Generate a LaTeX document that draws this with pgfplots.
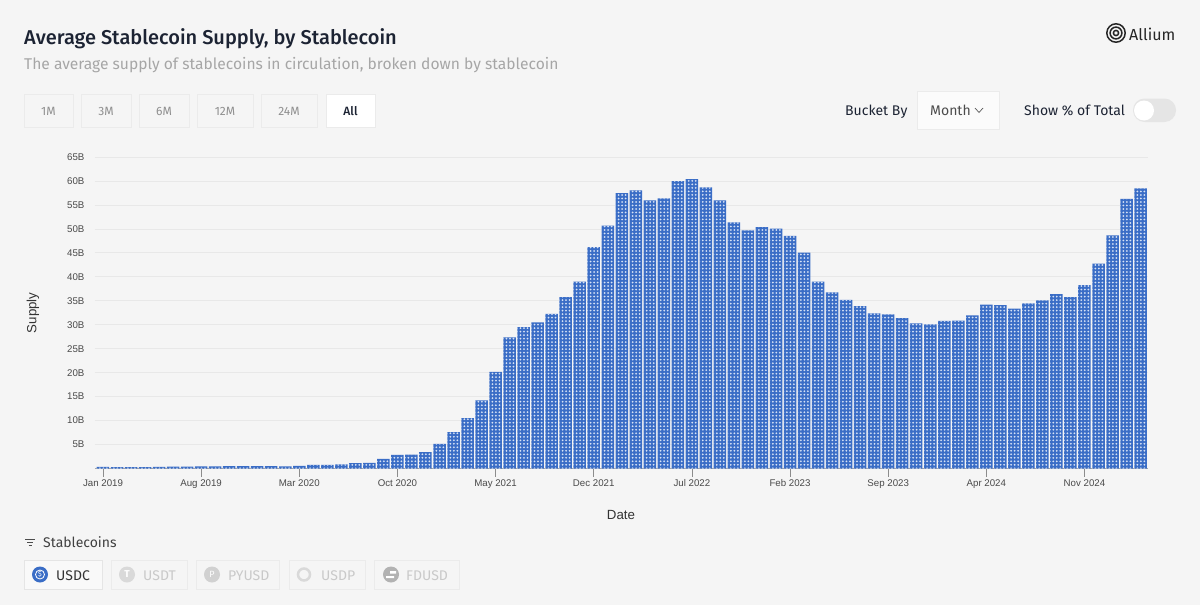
\documentclass[border=0pt]{standalone}
\usepackage{fontspec}
\setmainfont{Liberation Sans}
\newfontfamily\uifont{Fira Sans}
\newfontfamily\uimedium{Fira Sans Medium}
\usepackage{pgfplots}
\pgfplotsset{compat=1.18}
\usetikzlibrary{patterns.meta}
\definecolor{pagebg}{HTML}{F5F5F5}
\definecolor{barblue}{HTML}{3A6DC6}
\definecolor{dotblue}{HTML}{D6E2F5}
\definecolor{gridc}{HTML}{E8E8E8}
\definecolor{chipline}{HTML}{EBEBEB}
\definecolor{titlec}{HTML}{1C2333}
\definecolor{subc}{HTML}{A6A6A6}
\definecolor{mutec}{HTML}{8F8F8F}
\definecolor{offc}{HTML}{C9C9C9}
\definecolor{axisc}{HTML}{4A4A4A}

\pgfplotstableread{
i val
0 0.35
1 0.30
2 0.30
3 0.30
4 0.35
5 0.40
6 0.40
7 0.45
8 0.45
9 0.50
10 0.50
11 0.50
12 0.50
13 0.45
14 0.55
15 0.75
16 0.75
17 0.85
18 1.10
19 1.20
20 2.00
21 2.85
22 2.90
23 3.40
24 5.15
25 7.60
26 10.5
27 14.2
28 20.2
29 27.4
30 29.5
31 30.5
32 32.3
33 35.8
34 39.0
35 46.2
36 50.7
37 57.5
38 58.1
39 56.0
40 56.4
41 60.0
42 60.4
43 58.7
44 56.0
45 51.4
46 49.7
47 50.4
48 50.1
49 48.6
50 45.1
51 39.0
52 36.8
53 35.2
54 33.9
55 32.4
56 32.2
57 31.4
58 30.3
59 30.1
60 30.8
61 30.9
62 32.0
63 34.2
64 34.1
65 33.4
66 34.5
67 35.1
68 36.4
69 35.8
70 38.3
71 42.8
72 48.7
73 56.3
74 58.5
}\supplytable

\begin{document}
\begin{tikzpicture}
% page in pixel coordinates, y downwards
\begin{scope}[x=1pt,y=-1pt,font=\uifont]
\fill[pagebg] (0,0) rectangle (1200,605);
\node[anchor=base west,inner sep=0,text=titlec,font=\uimedium\fontsize{20}{24}\selectfont] at (24,45) {Average Stablecoin Supply, by Stablecoin};
\node[anchor=base west,inner sep=0,text=subc,font=\uifont\fontsize{15.6}{20}\selectfont] at (24,69) {The average supply of stablecoins in circulation, broken down by stablecoin};
% range buttons
\foreach \a/\b/\t in {24/73/1M,81/131/3M,139/189/6M,197/253/12M,261/317/24M}{
  \draw[chipline] (\a,94) rectangle (\b,127);
  \node[text=mutec,font=\uifont\fontsize{12}{14}\selectfont] at ({(\a+\b)/2},111) {\t};
}
\draw[chipline,fill=white] (326,94) rectangle (375,127);
\node[text=titlec,font=\uimedium\fontsize{12}{14}\selectfont] at (350.5,111) {All};
% logo
\foreach \r in {9.2,5.9,2.6}{\draw[black!85,line width=1.5pt] (1116,33) circle (\r);}
\node[anchor=base west,inner sep=0,text=black!85,font=\uifont\fontsize{16}{18}\selectfont] at (1129,40) {Allium};
% controls
\node[anchor=base west,inner sep=0,text=titlec,font=\uifont\fontsize{14}{16}\selectfont] at (845,115) {Bucket By};
\draw[chipline,fill=white!60!pagebg] (917,91) rectangle (999,129);
\node[anchor=base west,inner sep=0,text=black!70,font=\uifont\fontsize{14}{16}\selectfont] at (930,115) {Month};
\draw[black!65,line width=.7pt] (975,108) -- (979,112.5) -- (983,108);
\node[anchor=base west,inner sep=0,text=titlec,font=\uifont\fontsize{14}{16}\selectfont] at (1024,115) {Show \% of Total};
\fill[black!10,rounded corners=11.5pt] (1133,98.5) rectangle (1176,122);
\fill[white] (1144,110.5) circle (10);
% filter
\node[anchor=base west,inner sep=0,text=black!75,font=\uifont\fontsize{14}{16}\selectfont] at (43,547) {Stablecoins};
\draw[black!70,line width=1pt] (25,539) -- (35,539) (27,542) -- (33,542) (28.5,545) -- (31.5,545);
% coin chips
\draw[black!10,fill=white!40!pagebg] (24,560) rectangle (102,589);
\foreach \a/\b in {111/187,196/279,289/365,374/459}{\draw[chipline] (\a,560) rectangle (\b,589);}
\fill[barblue] (40,574.5) circle (8);
\draw[white,line width=.8pt] (40,574.5) circle (4.5);
\node[text=white,inner sep=0,font=\uifont\fontsize{7}{8}\selectfont] at (40,574.5) {\$};
\node[anchor=base west,inner sep=0,text=black!80,font=\uifont\fontsize{14}{16}\selectfont] at (56,580) {USDC};
\fill[black!15] (127,574.5) circle (8);
\node[text=white,inner sep=0,font=\uifont\bfseries\fontsize{10}{10}\selectfont] at (127,574.5) {T};
\node[anchor=base west,inner sep=0,text=offc,font=\uifont\fontsize{14}{16}\selectfont] at (143,580) {USDT};
\fill[black!18] (212,574.5) circle (8);
\node[text=white,inner sep=0,font=\uifont\fontsize{9}{10}\selectfont] at (212,574.5) {P};
\node[anchor=base west,inner sep=0,text=offc,font=\uifont\fontsize{14}{16}\selectfont] at (228,580) {PYUSD};
\draw[black!15,line width=2.5pt] (304,574.5) circle (6);
\node[anchor=base west,inner sep=0,text=offc,font=\uifont\fontsize{14}{16}\selectfont] at (321,580) {USDP};
\fill[black!30] (391,574.5) circle (8);
\fill[white] (390,571) rectangle (396,573.5) (386,576) rectangle (394,578);
\node[anchor=base west,inner sep=0,text=offc,font=\uifont\fontsize{14}{16}\selectfont] at (406,580) {FDUSD};
\end{scope}

\begin{axis}[
    at={(95pt,-468.5pt)},
    anchor=south west,
    scale only axis,
    width=1053pt,
    height=311.3pt,
    xmin=-0.57, xmax=74.53,
    ymin=0, ymax=65,
    ybar,
    bar width=12.5pt,
    axis x line=bottom,
    axis y line=left,
    axis line style={draw=black!35,-},
    y axis line style={draw=none},
    xtick={0,7,14,21,28,35,42,49,56,63,70},
    xticklabels={Jan 2019,Aug 2019,Mar 2020,Oct 2020,May 2021,Dec 2021,Jul 2022,Feb 2023,Sep 2023,Apr 2024,Nov 2024},
    ytick={5,10,...,65},
    yticklabel={\pgfmathprintnumber{\tick}B},
    /pgf/number format/assume math mode=true,
    ymajorgrids,
    grid style={gridc,line width=1pt},
    tick align=outside,
    xtick style={draw=black!45,line width=.6pt},
    major tick length=8pt,
    ytick style={draw=none},
    tick label style={font=\fontsize{9.7}{10}\selectfont,text=axisc},
    xticklabel style={yshift=1pt,text height=7pt,text depth=2pt},
    yticklabel style={xshift=1pt},
    xlabel={Date},
    ylabel={Supply},
    label style={font=\fontsize{13.3}{15}\selectfont,text=black!80},
    xlabel style={at={(axis description cs:0.5,0)},anchor=center,yshift=-46.5pt,xshift=-0.5pt},
    ylabel style={at={(axis description cs:0,0.5)},anchor=center,yshift=62pt},
    clip=false,
  ]
  \addplot[draw=none,preaction={fill=barblue},pattern={Dots[distance=3.505pt,radius=1pt,xshift=1.75pt]},pattern color=dotblue] table[x=i,y=val] {\supplytable};
\end{axis}
\end{tikzpicture}
\end{document}
